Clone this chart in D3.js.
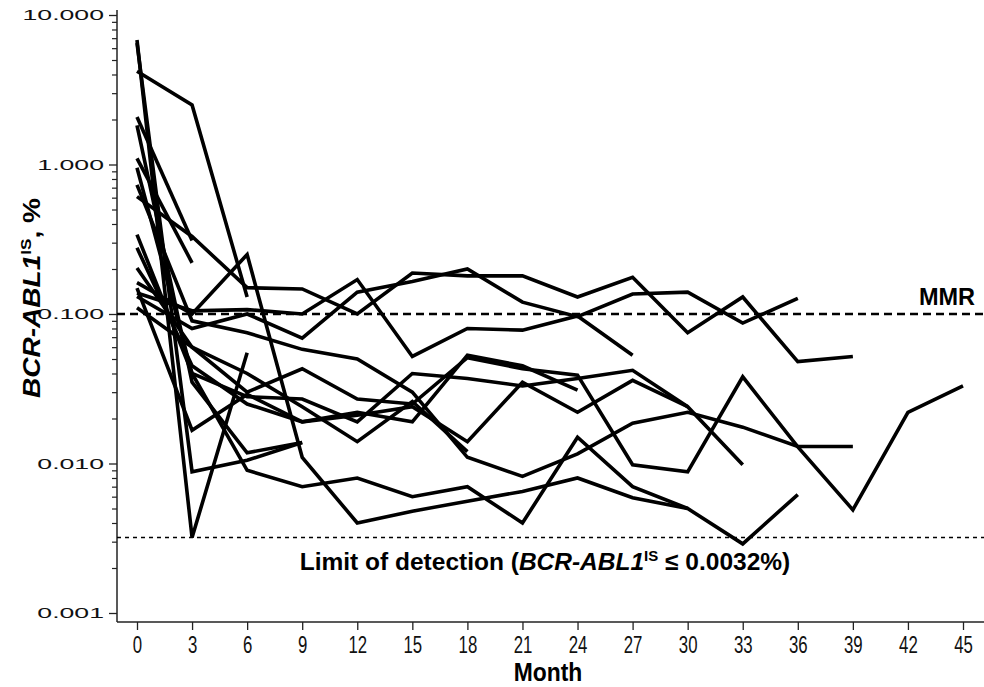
<!DOCTYPE html>
<html><head><meta charset="utf-8">
<script src="https://cdn.jsdelivr.net/npm/d3@7"></script>
<style>body{margin:0;background:#fff}svg{display:block}</style>
</head><body>
<svg id="c" width="984" height="687"></svg>
<script>
const months = [0,3,6,9,12,15,18,21,24,27,30,33,36,39,42,45];
const majorTicks = [0.001,0.01,0.1,1,10];
const mmrValue = 0.1;
const lodValue = 0.0032;
// patient series: values at months 0,3,6,... (shorter arrays = follow-up ended)
const p01 = [6.8, 0.0032, 0.055];
const p02 = [6.5, 0.0088, 0.0105, 0.0138];
const p03 = [4.2, 2.5, 0.13];
const p04 = [2.08, 0.31];
const p05 = [1.83, 0.035, 0.0118, 0.0138];
const p06 = [1.10, 0.22];
const p07 = [0.95, 0.04, 0.009, 0.007, 0.008, 0.006, 0.007, 0.004, 0.015, 0.007, 0.005];
const p08 = [0.73, 0.09, 0.075, 0.058, 0.05, 0.03, 0.011, 0.0082, 0.0116, 0.0186, 0.022, 0.0175, 0.013, 0.013];
const p09 = [0.61, 0.33, 0.15, 0.147, 0.1, 0.188, 0.18, 0.18, 0.13, 0.176, 0.075, 0.13, 0.048, 0.052];
const p10 = [0.34, 0.04, 0.028, 0.027, 0.019, 0.04, 0.037, 0.033, 0.037, 0.042, 0.024, 0.0098];
const p11 = [0.277, 0.045, 0.025, 0.019, 0.021, 0.024, 0.014, 0.035, 0.022, 0.036, 0.024];
const p12 = [0.203, 0.06, 0.03, 0.043, 0.027, 0.025, 0.051, 0.043, 0.039, 0.0098, 0.0088, 0.038, 0.0129, 0.0049, 0.022, 0.033];
const p13 = [0.162, 0.1, 0.25, 0.011, 0.004, 0.0048, 0.0056, 0.0065, 0.008, 0.0059, 0.005, 0.0029, 0.0062];
const p14 = [0.149, 0.0167, 0.029, 0.019, 0.022, 0.019, 0.053, 0.045, 0.031];
const p15 = [0.138, 0.105, 0.107, 0.1, 0.17, 0.052, 0.08, 0.078, 0.097, 0.053];
const p16 = [0.131, 0.08, 0.1, 0.069, 0.14, 0.165, 0.2, 0.12, 0.096, 0.136, 0.14, 0.087, 0.127];
const p17 = [0.11, 0.06, 0.04, 0.024, 0.014, 0.026, 0.012];
const patients = [p01,p02,p03,p04,p05,p06,p07,p08,p09,p10,p11,p12,p13,p14,p15,p16,p17];

const svg = d3.select('#c');
const x = d3.scaleLinear().domain([0,45]).range([137,963]);
const y = d3.scaleLog().domain([0.001,10]).range([613,15]);
const axisLeftX = 117, axisBottomY = 622, topY = 10, rightX = 984;
const sans = '"Liberation Sans",Arial,sans-serif';

// axes lines
svg.append('line').attr('x1',axisLeftX).attr('x2',axisLeftX).attr('y1',topY).attr('y2',axisBottomY)
  .attr('stroke','#222').attr('stroke-width',1.5);
svg.append('line').attr('x1',axisLeftX).attr('x2',rightX).attr('y1',axisBottomY).attr('y2',axisBottomY)
  .attr('stroke','#222').attr('stroke-width',1.5);

// y axis major + minor
const minor = [];
majorTicks.slice(0,-1).forEach(d=>{for(let k=2;k<=9;k++) minor.push(d*k);});
const ySx = 1.72;
const gy = svg.append('g').attr('transform',`translate(${axisLeftX},0)`)
  .call(d3.axisLeft(y).tickValues(majorTicks).tickFormat(d3.format('.3f')).tickSize(8).tickPadding(5));
gy.select('.domain').remove();
gy.selectAll('.tick line').attr('stroke','#222').attr('stroke-width',1.3);
gy.selectAll('.tick text').attr('font-family',sans).attr('font-size',15.5).attr('fill','#111')
  .attr('x',-13/ySx).attr('transform',`scale(${ySx},1)`);
const gym = svg.append('g').attr('transform',`translate(${axisLeftX},0)`)
  .call(d3.axisLeft(y).tickValues(minor).tickFormat('').tickSize(5));
gym.select('.domain').remove();
gym.selectAll('.tick line').attr('stroke','#222').attr('stroke-width',1.2);

// x axis
const gx = svg.append('g').attr('transform',`translate(0,${axisBottomY})`)
  .call(d3.axisBottom(x).tickValues(months).tickSize(8).tickPadding(6));
gx.select('.domain').remove();
gx.selectAll('.tick line').attr('stroke','#222').attr('stroke-width',1.3);
gx.selectAll('.tick text').attr('font-family',sans).attr('font-size',24).attr('fill','#111')
  .attr('transform','scale(0.7,1)');

// reference lines
svg.append('line').attr('x1',axisLeftX).attr('x2',rightX).attr('y1',y(mmrValue)).attr('y2',y(mmrValue))
  .attr('stroke','#000').attr('stroke-width',2.5).attr('stroke-dasharray','8,5');
svg.append('line').attr('x1',axisLeftX).attr('x2',rightX).attr('y1',y(lodValue)).attr('y2',y(lodValue))
  .attr('stroke','#000').attr('stroke-width',1.6).attr('stroke-dasharray','4,4');

// patient lines
const line = d3.line().x((d,i)=>x(months[i])).y(d=>y(d));
svg.append('g').selectAll('path').data(patients).join('path')
  .attr('d',line).attr('fill','none').attr('stroke','#000').attr('stroke-width',3.6)
  .attr('stroke-linejoin','miter');

// labels
svg.append('text').attr('x',975).attr('y',305).attr('text-anchor','end')
  .attr('font-family',sans).attr('font-weight','bold').attr('font-size',23.5).text('MMR');
const lod = svg.append('text').attr('x',545).attr('y',570).attr('text-anchor','middle')
  .attr('font-family',sans).attr('font-weight','bold').attr('font-size',24.5);
lod.append('tspan').text('Limit of detection (');
lod.append('tspan').attr('font-style','italic').text('BCR-ABL1');
lod.append('tspan').attr('font-size',15).attr('dy',-9).text('IS');
lod.append('tspan').attr('dy',9).text(' ≤ 0.0032%)');

const yt = svg.append('text').attr('transform','translate(40,298) rotate(-90) scale(1.22,1)').attr('text-anchor','middle')
  .attr('font-family',sans).attr('font-weight','bold').attr('font-size',23);
yt.append('tspan').attr('font-style','italic').text('BCR-ABL1');
yt.append('tspan').attr('font-size',14).attr('dy',-9).text('IS');
yt.append('tspan').attr('dy',9).text(', %');

svg.append('text').attr('transform','translate(548,681) scale(0.88,1)').attr('text-anchor','middle')
  .attr('font-family',sans).attr('font-weight','bold').attr('font-size',26).text('Month');
</script>
</body></html>
